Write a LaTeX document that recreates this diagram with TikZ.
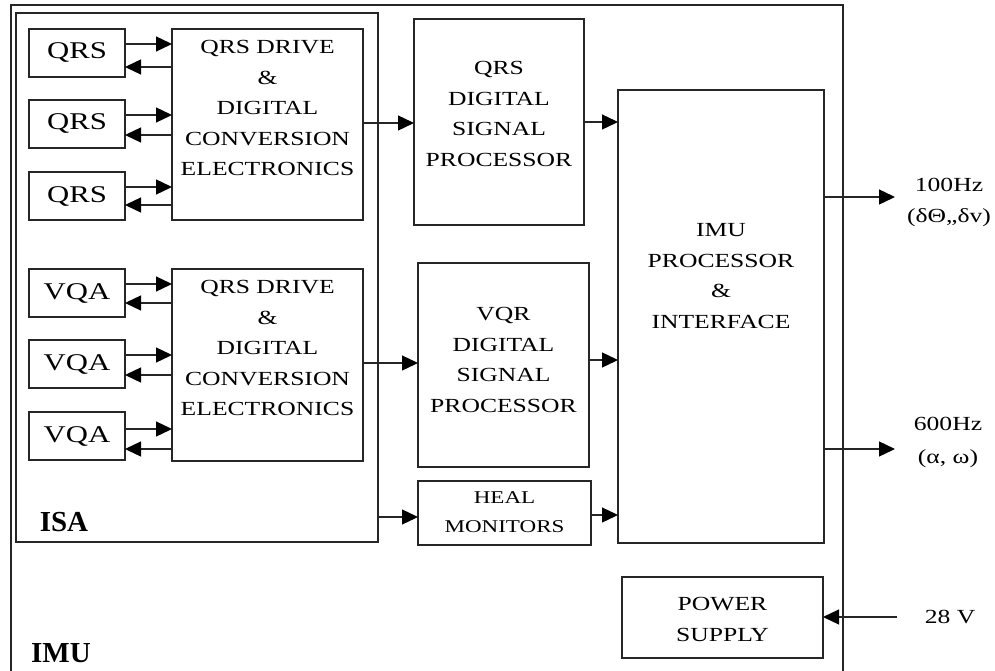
\documentclass[tikz,border=0pt]{standalone}
\usepackage{fontspec}
\setmainfont{Liberation Serif}[FakeStretch=1.28]
\newfontfamily\lblfont{Liberation Serif}
\usetikzlibrary{arrows.meta}
\begin{document}
\begin{tikzpicture}[x=1pt,y=-1pt,
  box/.style={draw=black!85, line width=1.3pt, inner sep=0pt, outer sep=0pt, rectangle},
  txt/.style={align=center, inner sep=0pt, font=\fontsize{20}{30.5}\selectfont},
  sm/.style={inner sep=0pt, font=\fontsize{24}{28}\selectfont},
  big/.style={inner sep=0pt, font=\lblfont\bfseries\fontsize{29}{32}\selectfont},
  arr/.style={draw=black!85, line width=1.3pt, -{Triangle[length=16pt,width=15pt,color=black]}}]
\useasboundingbox (0,0) rectangle (995,671);
\clip (0,0) rectangle (995,671);
% IMU frame
\draw[draw=black!85, line width=1.3pt] (11,680) -- (11,5) -- (843,5) -- (843,680);
% ISA
\node[box, minimum width=362pt, minimum height=529pt] (isa) at (197,277.5) {};
% QRS sensors
\node[box, minimum width=96pt, minimum height=48pt] (q1) at (77,53) {};
\node[box, minimum width=96pt, minimum height=48pt] (q2) at (77,124) {};
\node[box, minimum width=96pt, minimum height=48pt] (q3) at (77,196) {};
\node[sm] (q1t) at (q1.center) {QRS};
\node[sm] (q2t) at (q2.center) {QRS};
\node[sm] (q3t) at (q3.center) {QRS};
\node[box, minimum width=191pt, minimum height=191pt] (drv1) at (267.5,124.5) {};
\node[txt] (drv1t) at (267.5,108) {QRS DRIVE\\\&\\DIGITAL\\CONVERSION\\ELECTRONICS};
% VQA sensors
\node[box, minimum width=96pt, minimum height=48pt] (v1) at (77,293) {};
\node[box, minimum width=96pt, minimum height=48pt] (v2) at (77,364) {};
\node[box, minimum width=96pt, minimum height=48pt] (v3) at (77,436) {};
\node[sm] (v1t) at (v1.center) {VQA};
\node[sm] (v2t) at (v2.center) {VQA};
\node[sm] (v3t) at (v3.center) {VQA};
\node[box, minimum width=191pt, minimum height=192pt] (drv2) at (267.5,365) {};
\node[txt] (drv2t) at (267.5,348) {QRS DRIVE\\\&\\DIGITAL\\CONVERSION\\ELECTRONICS};
% processors
\node[box, minimum width=170pt, minimum height=206pt] (qdsp) at (499,122) {};
\node[txt] (qdspt) at (499,114) {QRS\\DIGITAL\\SIGNAL\\PROCESSOR};
\node[box, minimum width=171pt, minimum height=204pt] (vdsp) at (503.5,365) {};
\node[txt] (vdspt) at (503.5,360) {VQR\\DIGITAL\\SIGNAL\\PROCESSOR};
\node[box, minimum width=173pt, minimum height=64pt] (heal) at (504.5,513) {};
\node[txt, font=\fontsize{18}{29}\selectfont] (healt) at (504.5,512.5) {HEAL\\MONITORS};
\node[box, minimum width=206pt, minimum height=453pt] (imu) at (721,316.5) {};
\node[txt] (imut) at (721,276) {IMU\\PROCESSOR\\\&\\INTERFACE};
\node[box, minimum width=201pt, minimum height=81pt] (psu) at (722.5,617.5) {};
\node[txt] (psut) at (722.5,619.5) {POWER\\SUPPLY};
% labels
\node[big] (isal) at (64,522) {ISA};
\node[big] (imul) at (61,653) {IMU};
\node[txt, font=\fontsize{20}{31}\selectfont] (l100) at (949,202) {100Hz\\(δΘ,,δv)};
\node[txt, font=\fontsize{20}{33}\selectfont] (l600) at (948,442) {600Hz\\(α, ω)};
\node[txt] (l28) at (950,617) {28 V};
\coordinate (o100) at (895,197);
\coordinate (o600) at (895,449);
\coordinate (i28) at (897,617);
% sensor arrows
\draw[arr] (q1.east |- 0,44) -- (drv1.west |- 0,44);
\draw[arr] (drv1.west |- 0,67) -- (q1.east |- 0,67);
\draw[arr] (q2.east |- 0,115) -- (drv1.west |- 0,115);
\draw[arr] (drv1.west |- 0,135) -- (q2.east |- 0,135);
\draw[arr] (q3.east |- 0,187) -- (drv1.west |- 0,187);
\draw[arr] (drv1.west |- 0,205) -- (q3.east |- 0,205);
\draw[arr] (v1.east |- 0,284) -- (drv2.west |- 0,284);
\draw[arr] (drv2.west |- 0,303) -- (v1.east |- 0,303);
\draw[arr] (v2.east |- 0,355) -- (drv2.west |- 0,355);
\draw[arr] (drv2.west |- 0,375) -- (v2.east |- 0,375);
\draw[arr] (v3.east |- 0,429) -- (drv2.west |- 0,429);
\draw[arr] (drv2.west |- 0,449) -- (v3.east |- 0,449);
% signal flow
\draw[arr] (drv1.east |- 0,123) -- (qdsp.west |- 0,123);
\draw[arr] (drv2.east |- 0,363) -- (vdsp.west |- 0,363);
\draw[arr] (qdsp.east |- 0,122) -- (imu.west |- 0,122);
\draw[arr] (vdsp.east |- 0,360) -- (imu.west |- 0,360);
\draw[arr] (isa.east |- 0,517) -- (heal.west |- 0,517);
\draw[arr] (heal.east |- 0,515) -- (imu.west |- 0,515);
\draw[arr] (imu.east |- o100) -- (o100);
\draw[arr] (imu.east |- o600) -- (o600);
\draw[arr] (i28) -- (psu.east |- i28);
\end{tikzpicture}
\end{document}
